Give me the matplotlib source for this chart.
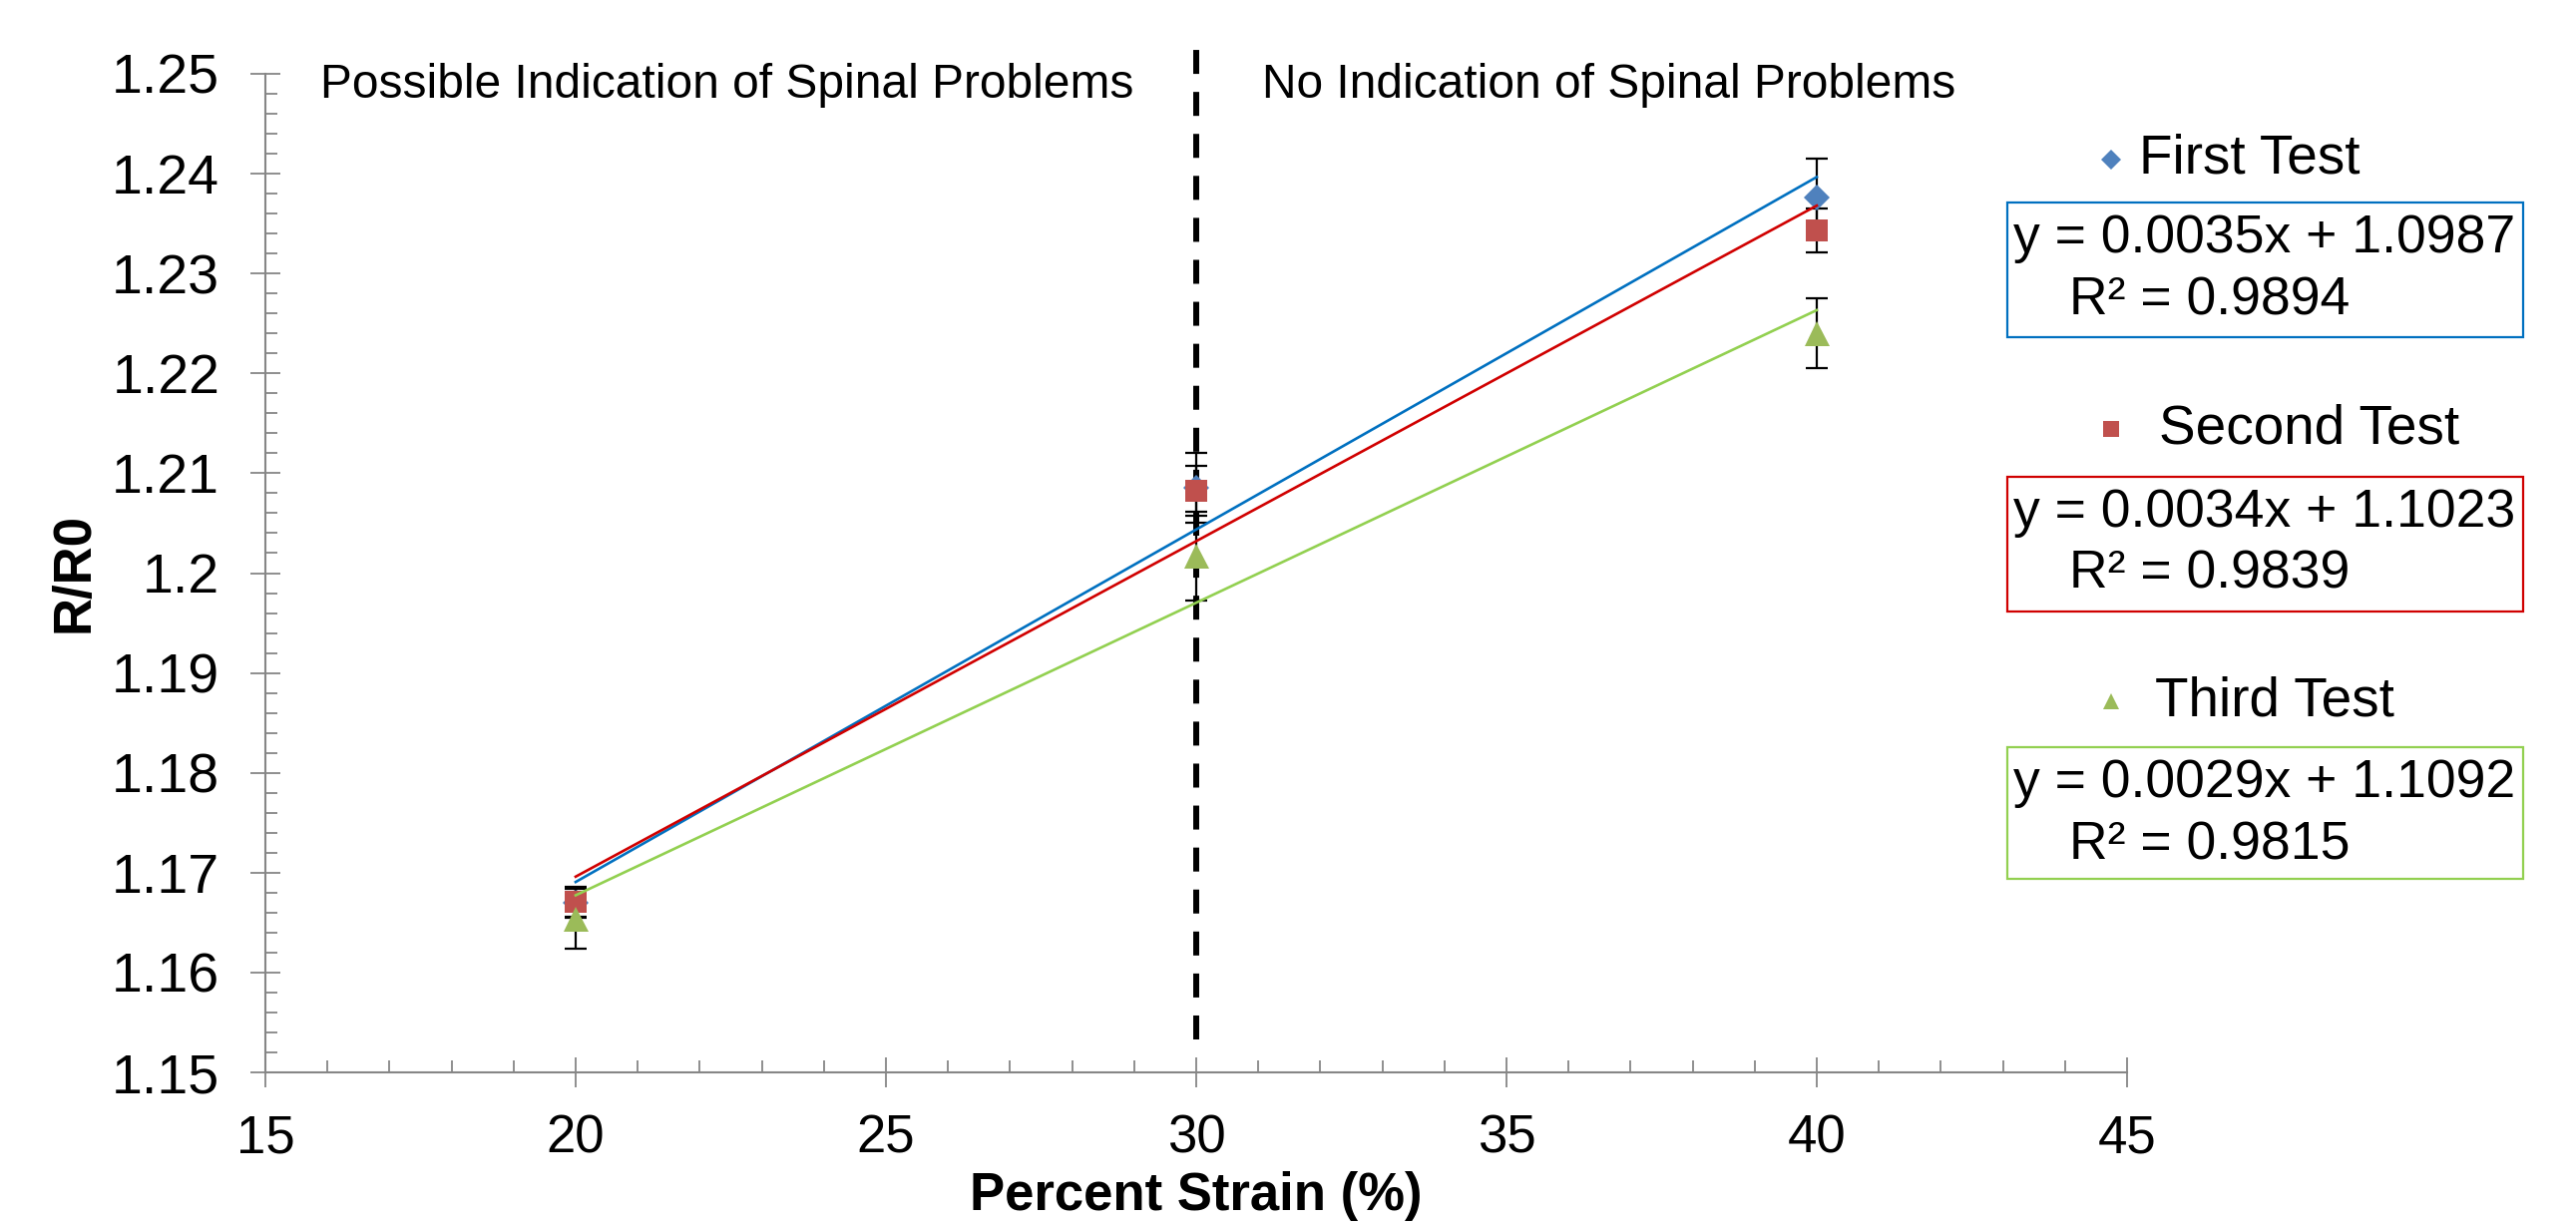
import numpy as np
import matplotlib
matplotlib.use("Agg")
import matplotlib.pyplot as plt
from matplotlib.patches import Rectangle
from matplotlib.lines import Line2D

plt.rcParams["font.family"] = ["Liberation Sans", "DejaVu Sans"]
plt.rcParams["lines.scale_dashes"] = False

# values
strain = [20, 30, 40]
series_names = ["First Test", "Second Test", "Third Test"]
first_mean = [1.1670, 1.2085, 1.2376]
first_err = [0.0015, 0.0035, 0.0039]
second_mean = [1.1671, 1.2082, 1.2343]
second_err = [0.0015, 0.0025, 0.0022]
third_mean = [1.1654, 1.2017, 1.2240]
third_err = [0.0030, 0.0044, 0.0035]
fit_eqs = ["y = 0.0035x + 1.0987", "y = 0.0034x + 1.1023", "y = 0.0029x + 1.1092"]
fit_r2 = ["R² = 0.9894", "R² = 0.9839", "R² = 0.9815"]
divider_x = 30
divider_span = [1.1533, 1.2527]
xticks = [15, 20, 25, 30, 35, 40, 45]
yticks = [1.15, 1.16, 1.17, 1.18, 1.19, 1.20, 1.21, 1.22, 1.23, 1.24, 1.25]

means = [first_mean, second_mean, third_mean]
errs = [first_err, second_err, third_err]
markers = ["D", "s", "^"]
msizes = [13, 16, 18]
mcolors = ["#4F81BD", "#C0504D", "#9BBB59"]
lcolors = ["#0070C0", "#D00000", "#92D050"]

W, H = 2582, 1229
fig = plt.figure(figsize=(W / 100, H / 100), dpi=100)
ax = fig.add_axes([266 / W, 1 - 1075 / H, (2132 - 266) / W, (1075 - 74) / H])

# dashed divider
ax.plot([divider_x, divider_x], divider_span, color="black", lw=4.3,
        dashes=(17.3, 13), clip_on=False, zorder=1)

for m, e in zip(means, errs):
    ax.errorbar(strain, m, yerr=e, fmt="none", ecolor="black", elinewidth=1.6,
                capsize=8, capthick=1.6, zorder=2)
for m, mk, ms, mc in zip(means, markers, msizes, mcolors):
    ax.plot(strain, m, linestyle="none", marker=mk, markersize=ms, color=mc,
            markeredgewidth=0, zorder=3)
for m, lc in zip(means, lcolors):
    k, b = np.polyfit(strain, m, 1)
    xs = np.array([strain[0], strain[-1]])
    ax.plot(xs, k * xs + b, color=lc, lw=1.9, zorder=4)

ax.set_xlim(15, 45)
ax.set_ylim(1.15, 1.25)
ax.set_xticks(xticks)
ax.set_yticks(yticks)
ax.set_yticklabels([f"{v:g}" for v in yticks])
ax.set_xticks(np.arange(15, 46, 1), minor=True)
ax.set_yticks(np.arange(1.15, 1.2501, 0.002), minor=True)

for side in ["top", "right"]:
    ax.spines[side].set_visible(False)
for side in ["left", "bottom"]:
    ax.spines[side].set_color("#868686")
    ax.spines[side].set_linewidth(1.5)
ax.tick_params(which="major", direction="inout", length=22, width=1.3,
               color="#868686", labelcolor="black")
ax.tick_params(axis="y", which="major", pad=22, labelsize=40)
ax.tick_params(axis="x", which="major", pad=19, labelsize=38)
ax.tick_params(which="minor", direction="in", length=8.5, width=1.3,
               color="#868686")

ax.set_xlabel("Percent Strain (%)", fontsize=38, fontweight="bold", labelpad=5)
ax.set_ylabel("R/R0", fontsize=38, fontweight="bold", labelpad=9)

fig.text(321 / W, 1 - 86 / H, "Possible Indication of Spinal Problems",
         fontsize=34.5, va="center", ha="left")
fig.text(1265 / W, 1 - 86 / H, "No Indication of Spinal Problems",
         fontsize=34.5, va="center", ha="left")

# legend with trendline equations on the right
name_y = [160, 430, 703]
name_x = [2144, 2164, 2160]
box_y = [(203, 338), (478, 613), (749, 881)]
eq_y = [239, 514, 785]
r2_y = [301, 576, 848]
leg_sizes = [10, 12, 12]
for i in range(3):
    fig.add_artist(Line2D([2116 / W], [1 - name_y[i] / H], marker=markers[i],
                          markersize=leg_sizes[i], color=mcolors[i],
                          markeredgewidth=0, linestyle="none",
                          transform=fig.transFigure))
    fig.text(name_x[i] / W, 1 - name_y[i] / H, series_names[i], fontsize=39.5,
             va="center", ha="left")
    y0, y1 = box_y[i]
    fig.add_artist(Rectangle((2012 / W, 1 - y1 / H), (2529 - 2012) / W,
                             (y1 - y0) / H, transform=fig.transFigure,
                             facecolor="white", edgecolor=lcolors[i], lw=1.6))
    fig.text(2270 / W, 1 - eq_y[i] / H, fit_eqs[i], fontsize=38.5,
             va="center", ha="center")
    fig.text(2215 / W, 1 - r2_y[i] / H, fit_r2[i], fontsize=38.5,
             va="center", ha="center")

fig.savefig("out.png", dpi=100)
